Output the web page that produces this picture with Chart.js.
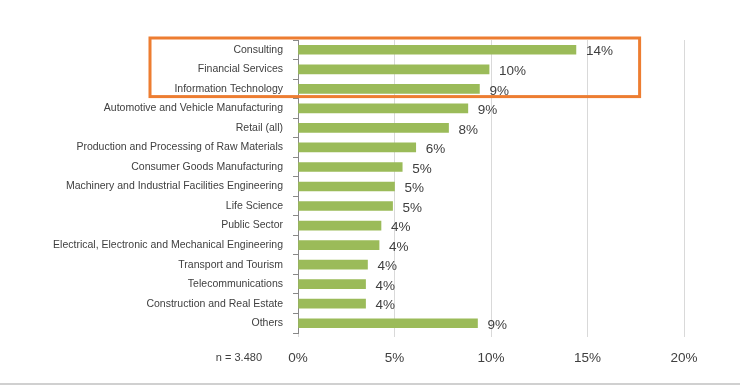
<!DOCTYPE html>
<html>
<head>
<meta charset="utf-8">
<script src="https://cdn.jsdelivr.net/npm/chart.js@4.4.1/dist/chart.umd.min.js"></script>
<style>
  html,body{margin:0;padding:0;background:#fff;}
  #wrap{position:relative;width:740px;height:383px;}
  #rule{width:740px;height:2px;background:#d0d0d0;}
</style>
</head>
<body>
<div id="wrap"><canvas id="c" width="740" height="383"></canvas></div>
<div id="rule"></div>
<script>
'use strict';

// sectors, top to bottom
var CATEGORIES=['Consulting','Financial Services','Information Technology','Automotive and Vehicle Manufacturing',
  'Retail (all)','Production and Processing of Raw Materials','Consumer Goods Manufacturing',
  'Machinery and Industrial Facilities Engineering','Life Science','Public Sector',
  'Electrical, Electronic and Mechanical Engineering','Transport and Tourism','Telecommunications',
  'Construction and Real Estate','Others'];
var SHARE=[14.4,9.9,9.4,8.8,7.8,6.1,5.4,5.0,4.9,4.3,4.2,3.6,3.5,3.5,9.3];
var X_TICKS=[0,5,10,15,20];
var SAMPLE_NOTE='n = 3.480';
var HIGHLIGHT_ROWS=[0,2]; // first and last highlighted row

var GREEN='#9bbb59',ORANGE='#ed7d31',TXT='#404040';

// value labels, "n =" note and the highlight box
var extras={
  id:'extras',
  afterDatasetsDraw:function(chart){
    var ctx=chart.ctx,meta=chart.getDatasetMeta(0),xs=chart.scales.x,ys=chart.scales.y,ca=chart.chartArea;
    ctx.save();
    ctx.font='13.5px "Liberation Sans", Arial, sans-serif';
    ctx.fillStyle=TXT;ctx.textAlign='left';ctx.textBaseline='middle';
    for(var i=0;i<meta.data.length;i++){
      var b=meta.data[i];
      ctx.fillText(Math.round(SHARE[i])+'%',b.x+10,b.y+2);
    }
    ctx.font='11px "Liberation Sans", Arial, sans-serif';
    ctx.textAlign='right';
    ctx.fillText(SAMPLE_NOTE,ca.left-36,ca.bottom+25);
    // orange box round the top rows
    var row=ys.getPixelForValue(1)-ys.getPixelForValue(0);
    var top=ys.getPixelForValue(HIGHLIGHT_ROWS[0])-row/2-2;
    var bot=ys.getPixelForValue(HIGHLIGHT_ROWS[1])+row/2-2;
    ctx.strokeStyle=ORANGE;ctx.lineWidth=3;
    ctx.strokeRect(150,top,xs.getPixelForValue(17.7)-150,bot-top);
    ctx.restore();
  }
};

new Chart(document.getElementById('c'),{
  type:'bar',
  data:{labels:CATEGORIES,datasets:[{data:SHARE,backgroundColor:GREEN,barThickness:9}]},
  options:{
    indexAxis:'y',responsive:false,animation:false,
    layout:{padding:{left:0,right:56,top:40,bottom:0}},
    plugins:{legend:{display:false},tooltip:{enabled:false}},
    scales:{
      x:{min:0,max:20,
        afterBuildTicks:function(s){s.ticks=X_TICKS.map(function(v){return{value:v};});},
        afterFit:function(s){s.height=50;},
        grid:{color:'#d9d9d9',tickLength:4,tickColor:'#d9d9d9'},
        border:{display:false},
        ticks:{color:TXT,padding:13,font:{family:'"Liberation Sans", Arial, sans-serif',size:13.5},
          callback:function(v){return v+'%';}}},
      y:{
        afterFit:function(s){s.width=298;},
        grid:{offset:true,drawOnChartArea:false,tickLength:5,tickColor:'#888'},
        border:{color:'#888'},
        ticks:{color:TXT,padding:10,autoSkip:false,font:{family:'"Liberation Sans", Arial, sans-serif',size:10.5}}}
    }
  },
  plugins:[extras]
});
</script>
</body>
</html>
